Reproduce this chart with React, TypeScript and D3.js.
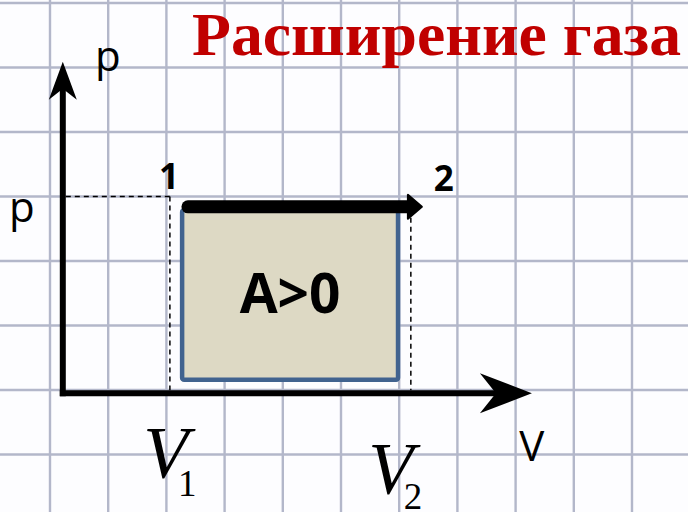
import React from 'react';
import * as d3 from 'd3';

// grid cells: vertical lines every cell on x, horizontal every cell on y
const gridCols = d3.range(0, 12);
const gridRows = d3.range(-1, 7);

// state values, in grid cells
const V1 = 2.06;
const V2 = 6.2;
const P = 3.0;
const origin = { v: 0.22, p: -0.05 };
const axisEnd = { v: 8.28, p: 5.09 };
const workRect = { v0: 2.27, v1: 5.98, p0: 0.16, p1: 2.79 };
const process = { v0: 2.37, v1: 6.39, p: 2.84 };

const title = 'Расширение газа';
const pointLabels = ['1', '2'];
const volumeLabels = [
  { sym: 'V', sub: '1', v: V1 },
  { sym: 'V', sub: '2', v: V2 },
];

const W = 688;
const H = 512;

const App = () => {
  const x = d3.scaleLinear().domain([0, 1]).range([50, 108.2]);
  const y = d3.scaleLinear().domain([0, 1]).range([390, 325.5]);

  const ox = x(origin.v);
  const oy = y(origin.p);
  const xTip = x(axisEnd.v);
  const yTip = y(axisEnd.p);

  // stealth style arrow heads for axes
  const yHead = `M${ox},${yTip} L${ox + 14},${yTip + 38} L${ox},${yTip + 27} L${ox - 14},${yTip + 38} Z`;
  const xHead = `M${xTip},${oy} L${xTip - 52},${oy + 20} L${xTip - 36},${oy} L${xTip - 52},${oy - 20} Z`;

  const px0 = x(process.v0);
  const px1 = x(process.v1);
  const py = y(process.p);

  const sans = "'Open Sans', 'DejaVu Sans', sans-serif";
  const serif = "'Liberation Serif', 'DejaVu Serif', serif";

  // label placement tweaks for V1 / V2
  const vDx = [-4, -20];
  const vDy = [85, 101];
  const subDx = [12, 13];
  const subDy = [18, 15];

  return (
    <svg width={W} height={H} style={{ display: 'block', position: 'absolute', left: 0, top: 0 }}>
      <rect width={W} height={H} fill="#fdfdff" />
      <g stroke="#b3b7ca" strokeWidth={2.4}>
        {gridCols.map(c => (
          <line key={'c' + c} x1={x(c)} x2={x(c)} y1={0} y2={H} />
        ))}
        {gridRows.map(r => (
          <line key={'r' + r} x1={0} x2={W} y1={y(r)} y2={y(r)} />
        ))}
      </g>

      <text x={W - 7} y={y(5.2)} textAnchor="end" fill="#c00000" fontFamily={serif}
        fontWeight="bold" fontSize={62} textLength={489} lengthAdjust="spacingAndGlyphs">
        {title}
      </text>

      {/* work area */}
      <rect x={x(workRect.v0)} y={y(workRect.p1)} width={x(workRect.v1) - x(workRect.v0)}
        height={y(workRect.p0) - y(workRect.p1)} rx={2} fill="#ddd9c4" stroke="#41638f" strokeWidth={4.5} />
      <text x={(x(workRect.v0) + x(workRect.v1)) / 2} y={y(1.2)} textAnchor="middle"
        fontFamily={sans} fontWeight="bold" fontSize={55} fill="#000">A&gt;0</text>

      {/* dashed guides */}
      <g stroke="#000" strokeWidth={1.5} strokeDasharray="5 4" fill="none">
        <line x1={ox + 3} x2={x(V1)} y1={y(P)} y2={y(P)} />
        <line x1={x(V1)} x2={x(V1)} y1={y(P)} y2={oy - 3} />
        <line x1={x(V2)} x2={x(V2)} y1={py + 2} y2={oy - 3} />
      </g>

      {/* axes */}
      <line x1={ox} x2={ox} y1={oy + 3} y2={yTip + 20} stroke="#000" strokeWidth={6} />
      <line x1={ox - 3} x2={xTip - 30} y1={oy} y2={oy} stroke="#000" strokeWidth={6} />
      <path d={yHead} fill="#000" />
      <path d={xHead} fill="#000" />

      {/* process 1 -> 2 */}
      <line x1={px0} x2={px1 - 12} y1={py} y2={py} stroke="#000" strokeWidth={13} strokeLinecap="round" />
      <path d={`M${px1},${py} L${px1 - 14},${py - 12} L${px1 - 14},${py + 12} Z`} fill="#000"
        stroke="#000" strokeWidth={2} strokeLinejoin="round" />

      <text x={x(V1) - 1} y={y(P) - 8} textAnchor="middle" fontFamily={sans} fontWeight="bold"
        fontSize={35} fill="#000">{pointLabels[0]}</text>
      <text x={x(V2) + 33} y={y(P) - 6} textAnchor="middle" fontFamily={sans} fontWeight="bold"
        fontSize={35} fill="#000">{pointLabels[1]}</text>

      {/* axis names */}
      <text x={ox + 45} y={y(4.95)} textAnchor="middle" fontFamily={sans} fontSize={42} fill="#000">p</text>
      <text x={ox - 41} y={y(P) + 25} textAnchor="middle" fontFamily={sans} fontSize={42} fill="#000">p</text>
      <text x={xTip} y={y(-1.1)} textAnchor="middle" fontFamily={sans} fontSize={42} fill="#000">V</text>

      {volumeLabels.map((d, i) => (
        <g key={d.sub} transform={`translate(${x(d.v) + vDx[i]},${oy + vDy[i]})`}>
          <text x={0} y={0} textAnchor="middle" fontFamily={serif} fontStyle="italic" fontSize={74} fill="#000">{d.sym}</text>
          <text x={subDx[i]} y={subDy[i]} textAnchor="start" fontFamily={serif} fontSize={37} fill="#000">{d.sub}</text>
        </g>
      ))}
    </svg>
  );
};

export default App;
